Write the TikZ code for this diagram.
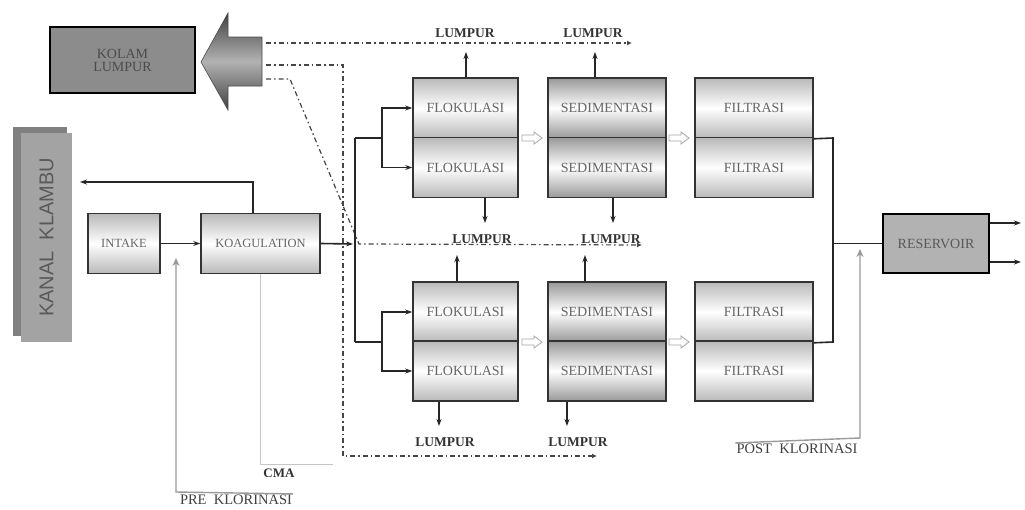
\documentclass[tikz,border=0pt]{standalone}
\usepackage{fontspec}
\setmainfont{Liberation Serif}
\newfontfamily\sansf{Liberation Sans}
\usetikzlibrary{arrows.meta,calc}
\begin{document}
\begin{tikzpicture}[x=1pt,y=-1pt,
  half/.style={draw=black!80,line width=1.6pt,minimum height=60pt,inner sep=0pt,
    top color=gray!55,bottom color=gray!55,middle color=white,
    font=\fontsize{14}{14}\selectfont,text=black!60},
  sedhalf/.style={half,top color=gray!80,bottom color=gray!80,middle color=white},
  smallbox/.style={half,font=\fontsize{12.5}{13}\selectfont},
  texbox/.style={draw=black,line width=1.6pt,inner sep=0pt,text=black!60,
    font=\fontsize{14}{15}\selectfont,align=center},
  lbl/.style={inner sep=1pt,font=\bfseries\fontsize{13.5}{14}\selectfont,text=black!80},
  glbl/.style={inner sep=1pt,font=\fontsize{14.5}{15}\selectfont,text=black!75},
  ln/.style={draw=black!85,line width=1.6pt},
  arr/.style={ln,-{Stealth[length=7pt,width=5pt]}},
  garr/.style={draw=gray!80,line width=1.4pt,-{Stealth[length=8pt,width=7pt]}},
  gln/.style={draw=gray!45,line width=1pt},
  dd/.style={draw=gray!55!black,line width=1.2pt,dash pattern=on 5pt off 3pt on 1.5pt off 3pt},
  ddarr/.style={dd,-{Latex[length=5pt,width=5pt]}},
  harrow/.pic={\draw[gray!70,line width=0.8pt,fill=white] (-10,-3) -- (2,-3) -- (2,-6) -- (10,0) -- (2,6) -- (2,3) -- (-10,3) -- cycle;}
]
\path[use as bounding box,fill=white] (0,0) rectangle (1025,509);

% Kolam lumpur and big arrow
\node[texbox,fill=gray!90,minimum width=145pt,minimum height=66pt,text=black!70] (kolam) at (122.5,60) {KOLAM\\[-2pt]LUMPUR};
\path[draw=black!70,line width=0.6pt,top color=black!75,bottom color=black!75,middle color=gray!60]
  (262,37) -- (228,37) -- (228,13) -- (201,62) -- (228,110) -- (228,86) -- (262,86) -- cycle;
\coordinate (a1) at (266,43);
\coordinate (a2) at (266,65);
\coordinate (a3) at (266,79);

% Kanal Klambu
\fill[gray] (13,127) rectangle (67,336);
\node[fill=gray!72,minimum width=209pt,minimum height=51pt,inner sep=0pt,
  font=\sansf\fontsize{20}{20}\selectfont,text=black!65,rotate=90] (kanal) at (46.5,237.5) {KANAL\ \ KLAMBU};

% Intake and coagulation
\node[smallbox,minimum width=72pt] (intake) at (124,243.5) {INTAKE};
\node[smallbox,minimum width=119pt] (koag) at (260.5,243.5) {KOAGULATION};

% Process blocks, top row
\node[half,minimum width=105pt] (flA1) at (465.5,108) {FLOKULASI};
\node[half,minimum width=105pt] (flA2) at (465.5,167.5) {FLOKULASI};
\node[sedhalf,minimum width=118pt] (sdA1) at (607,108) {SEDIMENTASI};
\node[sedhalf,minimum width=118pt] (sdA2) at (607,167.5) {SEDIMENTASI};
\node[half,minimum width=118pt] (ftA1) at (754,108) {FILTRASI};
\node[half,minimum width=118pt] (ftA2) at (754,167.5) {FILTRASI};
% bottom row
\node[half,minimum width=105pt] (flB1) at (465.5,312) {FLOKULASI};
\node[half,minimum width=105pt] (flB2) at (465.5,371) {FLOKULASI};
\node[sedhalf,minimum width=118pt] (sdB1) at (607,312) {SEDIMENTASI};
\node[sedhalf,minimum width=118pt] (sdB2) at (607,371) {SEDIMENTASI};
\node[half,minimum width=118pt] (ftB1) at (754,312) {FILTRASI};
\node[half,minimum width=118pt] (ftB2) at (754,371) {FILTRASI};

\pic at (532,138) {harrow};
\pic at (679,138) {harrow};
\pic at (532,342) {harrow};
\pic at (679,342) {harrow};

% Reservoir
\node[texbox,fill=gray!60,minimum width=106pt,minimum height=59pt,text=black!65] (res) at (936,243.5) {RESERVOIR};

% Labels
\node[lbl] (lA) at (465,33) {LUMPUR};
\node[lbl] (lB) at (593,33) {LUMPUR};
\node[lbl] (lC) at (482,239) {LUMPUR};
\node[lbl] (lD) at (611,239) {LUMPUR};
\node[lbl] (lE) at (445,442) {LUMPUR};
\node[lbl] (lF) at (578,442) {LUMPUR};
\node[lbl,font=\bfseries\fontsize{13}{14}\selectfont] (cma) at (279,473) {CMA};
\node[glbl] (prek) at (236,500) {PRE\ \ KLORINASI};
\node[glbl] (postk) at (797,449) {POST\ \ KLORINASI};

% Dash-dot sludge lines
\draw[ddarr] (a1) -- (632,43);
\draw[ddarr] (a2) -- (343,65) -- (343,456) -- (597,456);
\draw[ddarr] (a3) -- (290,79) -- (359,244) -- (642,245);

% Sludge arrows
\coordinate (tA) at (466,52);
\coordinate (tB) at (595,52);
\coordinate (tC) at (485,223);
\coordinate (tD) at (613,223);
\coordinate (tE) at (457,255);
\coordinate (tF) at (585,255);
\coordinate (tG) at (439,426);
\coordinate (tH) at (567,426);
\draw[arr] (flA1.north -| tA) -- (tA);
\draw[arr] (sdA1.north -| tB) -- (tB);
\draw[arr] (flA2.south -| tC) -- (tC);
\draw[arr] (sdA2.south -| tD) -- (tD);
\draw[arr] (flB1.north -| tE) -- (tE);
\draw[arr] (sdB1.north -| tF) -- (tF);
\draw[arr] (flB2.south -| tG) -- (tG);
\draw[arr] (sdB2.south -| tH) -- (tH);

% Main flow
\draw[arr] (intake) -- (koag);
\coordinate (kv) at (253,182);
\coordinate (kt) at (80,182);
\draw[arr] (koag.north -| kv) -- (kv) -- (kt);
\coordinate (dj) at (353,244);
\draw[arr] (koag.east) -- (dj);
\coordinate (dt) at (355,138);
\coordinate (db) at (355,342);
\coordinate (sp1) at (382,138);
\coordinate (sp2) at (382,342);
\draw[ln] (dt) -- (db);
\draw[arr] (dt) -- (sp1) |- (flA1.west);
\draw[arr] (sp1) |- (flA2.west);
\draw[arr] (db) -- (sp2) |- (flB1.west);
\draw[arr] (sp2) |- (flB2.west);

% Output
\coordinate (oj1) at (833,138);
\coordinate (oj2) at (833,342);
\draw[ln] (ftA1.south east) -- (oj1) -- (oj2) -- (ftB1.south east);
\draw[ln] (res.west -| oj1) -- (res.west);
\coordinate (o1) at (1021,223);
\coordinate (o2) at (1021,262);
\draw[arr] (res.east |- o1) -- (o1);
\draw[arr] (res.east |- o2) -- (o2);

% Chlorination
\coordinate (pk) at (860,438);
\coordinate (pkt) at (860,249);
\draw[garr] (postk.north west) -- (pk) -- (pkt);
\coordinate (pr) at (176,492);
\coordinate (prt) at (176,258);
\draw[garr] (prek.north east) -- (pr) -- (prt);
\coordinate (cm1) at (260.5,464);
\coordinate (cm2) at (333,464);
\draw[gln] (koag.south) -- (cm1) -- (cm2);
\end{tikzpicture}
\end{document}
